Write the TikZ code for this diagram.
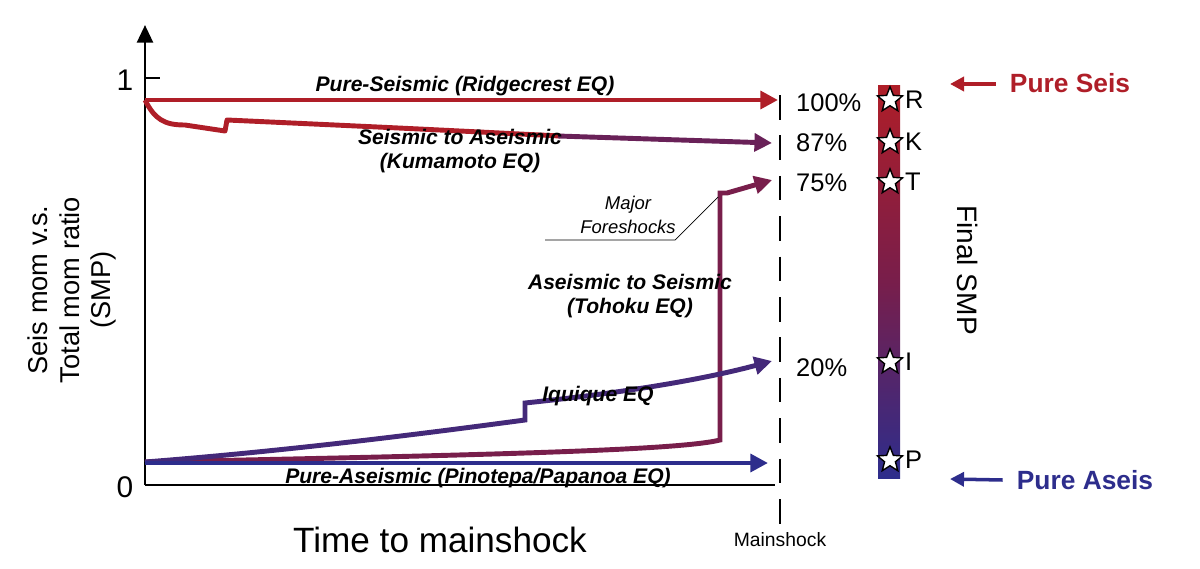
\documentclass[tikz,border=0pt]{standalone}
\usepackage{fontspec}
\setmainfont{Liberation Sans}
\usetikzlibrary{arrows.meta,shapes.geometric}
\definecolor{seis}{RGB}{175,30,40}
\definecolor{aseis}{RGB}{45,45,140}
\definecolor{mid}{RGB}{120,30,75}
\begin{document}
\begin{tikzpicture}[x=0.02cm,y=-0.02cm,
curve/.style={line width=2.8pt,-{Triangle[length=10pt,width=10pt]}},
lab/.style={font=\fontsize{12}{14}\selectfont\bfseries\itshape},
pct/.style={font=\fontsize{14.5}{16}\selectfont, anchor=west},
sta/.style={star,star points=5,star point ratio=2.3,draw=black,fill=white,thick,minimum size=15pt,inner sep=0pt},
let/.style={font=\fontsize{14.5}{16}\selectfont, anchor=west, inner sep=1pt}
]
\useasboundingbox (0,0) rectangle (1200,568);
%Axes
\coordinate (o) at (145,485);
\coordinate (top) at (145,25);
\coordinate (xend) at (775,485);
\draw[line width=1.6pt,-{Triangle[length=10pt,width=9pt]}] (o) -- (top);
\draw[line width=1.6pt] (o) -- (xend);
\draw[line width=1.6pt] (145,78) -- (160,78);
\node (one) at (125,80) {\fontsize{17}{19}\selectfont 1};
\node (zero) at (125,487) {\fontsize{17}{19}\selectfont 0};
\draw[line width=1.4pt,dash pattern=on 14pt off 9pt] (780,95) -- (780,525);
%Curves
\draw[curve,seis] (145,100) -- (778,100);
\draw[line width=2.8pt,seis,line join=round] (145,100) .. controls (155,120) and (165,125) .. (185,125)
  -- (225,131) -- (227,120) .. controls (400,128) .. (560,136);
\draw[curve,mid!80!aseis] (558,136) -- (772,143);
\draw[curve,mid] (145,462) .. controls (500,455) and (680,450) .. (720,440)
  -- (720,193) -- (727,193) -- (772,180);
\draw[curve,aseis!70!mid] (145,462) .. controls (300,450) and (450,430) .. (525,420)
  -- (525,403) .. controls (650,390) and (720,375) .. (772,361);
\draw[curve,aseis] (145,463) -- (768,463);
%Labels
\node[lab] (rc) at (465,86) {Pure-Seismic (Ridgecrest EQ)};
\node[lab,align=center] (km) at (460,151) {Seismic to Aseismic\\(Kumamoto EQ)};
\node[lab,align=center] (th) at (630,296) {Aseismic to Seismic\\(Tohoku EQ)};
\node[lab] (iq) at (598,396) {Iquique EQ};
\node[lab] (pp) at (478,478) {Pure-Aseismic (Pinotepa/Papanoa EQ)};
\node[align=center,font=\fontsize{10.5}{14}\selectfont\itshape] (mf) at (628,215) {Major\\Foreshocks};
\draw[thin] (545,240) -- (675,240) -- (718,197);
\node[pct] at (790,103) {100\%};
\node[pct] at (790,143) {87\%};
\node[pct] at (790,183) {75\%};
\node[pct] at (790,368) {20\%};
\node[rotate=90,align=center,font=\fontsize{15.5}{18}\selectfont] (ylab) at (72,290) {Seis mom v.s.\\Total mom ratio\\(SMP)};
\node[font=\fontsize{20}{22}\selectfont] (xlab) at (440,540) {Time to mainshock};
\node[font=\fontsize{11}{12}\selectfont] (ms) at (780,540) {Mainshock};
%Colour bar
\shade[top color=seis,bottom color=aseis,middle color=mid] (878,85) rectangle (900,478);
\foreach \y/\t in {100/R,142/K,182/T,362/I,460/P}{
  \node[sta] (s\t) at (890,\y) {};
  \node[let] at (903,\y) {\t};
}
\node[rotate=-90,font=\fontsize{16}{18}\selectfont] (fs) at (968,270) {Final SMP};
\node[font=\fontsize{15}{17}\selectfont\bfseries,text=seis] (ps) at (1070,83) {Pure Seis};
\node[font=\fontsize{15}{17}\selectfont\bfseries,text=aseis] (pa) at (1085,480) {Pure Aseis};
\draw[line width=2pt,seis,-{Triangle[length=8pt,width=8pt]}] (ps.west) ++(-8,1) -- (950,84);
\draw[line width=2pt,aseis,-{Triangle[length=8pt,width=8pt]}] (pa.west) ++(-8,0) -- (950,479);
\end{tikzpicture}
\end{document}
